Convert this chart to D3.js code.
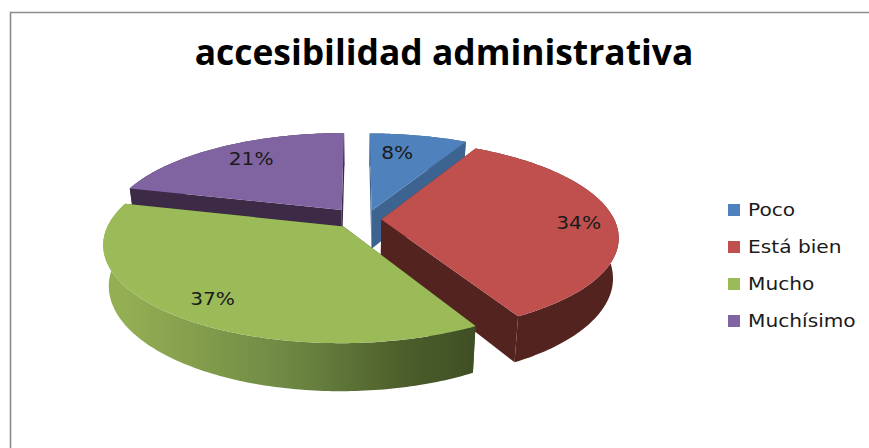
<!DOCTYPE html>
<html>
<head>
<meta charset="utf-8">
<script src="https://cdn.jsdelivr.net/npm/d3@7"></script>
<style>
  html, body { margin: 0; padding: 0; background: #fff; }
  svg { display: block; }
</style>
</head>
<body>
<svg id="chart" width="869" height="448"></svg>
<script>
// Chart content
const chartTitle = "accesibilidad administrativa";
const categories = ["Poco", "Está bien", "Mucho", "Muchísimo"];
const shares = [8, 34, 37, 21];

// Face colours per slice
const topColors = ["#4f81bd", "#c0504d", "#9bbb59", "#8064a2"];
const cutColors = ["#3d6491", "#532320", "#46562a", "#3c2a47"];
const rimColors = ["#3d6491", "#532320", "#46562a", "#3c2a47"];

// How far in along the radius each percentage sits, and a fine pixel adjustment
const labelRadii = [0.68, 0.83, 0.82, 0.72];
const labelNudges = [[-8, -5], [4, 3], [5, 2], [0, -5]];
// Back-to-front painting order (indexes into the slices)
const paintOrder = [3, 0, 1, 2];
// Extra ground-plane shift of individual slices on top of the common explosion
const sliceShifts = [[0.035, 0], [0, 0], [0, -0.005], [-0.01, -0.025]];

// Camera model of the tilted disc
const cx = 358, cy = 219.5;
const rx = 233, ry = 93.5;
const perspective = 0.175;
const explode = 0.1;
const depth = 39;
const floorShrink = 0.978;
// Body text is drawn slightly wide
const textStretch = 1.12;

const svg = d3.select("#chart");
const defs = svg.append("defs");

// Ground-plane point to screen; `lower` selects the underside of the disc
function project(gx, gs, lower) {
  const f = 1 / (1 - perspective * gs);
  const shrink = lower ? floorShrink : 1;
  return [
    cx + rx * gx * f * shrink,
    cy + ry * gs * f + (lower ? depth * f : 0)
  ];
}

const pieLayout = d3.pie().sort(null).value(d => d);
const arcs = pieLayout(shares).map((a, i) => {
  const mid = (a.startAngle + a.endAngle) / 2;
  return {
    i,
    start: a.startAngle,
    end: a.endAngle,
    mid,
    ox: explode * Math.sin(mid) + sliceShifts[i][0],
    os: -explode * Math.cos(mid) + sliceShifts[i][1]
  };
});

const pt = (a, r, theta, lower) =>
  project(a.ox + r * Math.sin(theta), a.os - r * Math.cos(theta), lower);

const apex = (a, lower) => project(a.ox, a.os, lower);

function rimPoints(a, from, to, lower) {
  const n = Math.max(2, Math.ceil(Math.abs(to - from) * 60));
  return d3.range(n + 1).map(k => pt(a, 1, from + (to - from) * k / n, lower));
}

const path = d3.line();
const closed = pts => path(pts) + "Z";

// Green's outer wall fades from light on the left to dark on the right
const grad = defs.append("linearGradient")
  .attr("id", "rimShade")
  .attr("gradientUnits", "userSpaceOnUse")
  .attr("x1", project(-1, 0)[0]).attr("x2", project(0.5, 0)[0])
  .attr("y1", 0).attr("y2", 0);
grad.append("stop").attr("offset", 0).attr("stop-color", "#94ae54");
grad.append("stop").attr("offset", 0.45).attr("stop-color", "#6f8a44");
grad.append("stop").attr("offset", 0.8).attr("stop-color", "#4c5e2b");
grad.append("stop").attr("offset", 1).attr("stop-color", "#3f4f24");

// Outer frame: left and top edges only, running off the canvas
svg.append("path")
  .attr("d", "M10.5,448V12.5H869")
  .attr("fill", "none")
  .attr("stroke", "#8c8c8c")
  .attr("stroke-width", 1.6);

svg.append("text")
  .attr("x", 444).attr("y", 65)
  .attr("text-anchor", "middle")
  .attr("font-family", "'Open Sans', sans-serif")
  .attr("font-weight", 700)
  .attr("font-size", 35.4)
  .attr("fill", "#000")
  .text(chartTitle);

const sliceLayer = svg.append("g");
paintOrder.forEach(idx => {
  const a = arcs[idx];
  const g = sliceLayer.append("g");
  const wallFill = idx === 2 ? "url(#rimShade)" : rimColors[idx];

  // Cut faces from the apex out to each slice edge
  [a.start, a.end].forEach(theta => {
    g.append("path")
      .attr("d", closed([apex(a), pt(a, 1, theta), pt(a, 1, theta, true), apex(a, true)]))
      .attr("fill", cutColors[idx]);
  });

  // Curved outer wall
  const upper = rimPoints(a, a.start, a.end, false);
  const lowerEdge = rimPoints(a, a.end, a.start, true);
  g.append("path")
    .attr("d", closed(upper.concat(lowerEdge)))
    .attr("fill", wallFill);

  // Top face
  g.append("path")
    .attr("d", closed([apex(a)].concat(upper)))
    .attr("fill", topColors[idx]);
});

// Percentage labels
svg.append("g").selectAll("text").data(arcs).join("text")
  .attr("transform", a => {
    const p = pt(a, labelRadii[a.i], a.mid);
    const n = labelNudges[a.i];
    return `translate(${p[0] + n[0]},${p[1] + n[1]}) scale(${textStretch},1)`;
  })
  .attr("text-anchor", "middle")
  .attr("dy", "0.36em")
  .attr("font-family", "'DejaVu Sans', sans-serif")
  .attr("font-size", 18)
  .attr("fill", "#1a1a1a")
  .text(a => shares[a.i] + "%");

// Legend
const legendY = d3.scalePoint().domain(categories).range([210, 321]);
const legend = svg.append("g").selectAll("g").data(categories).join("g")
  .attr("transform", d => `translate(728,${legendY(d)})`);
legend.append("rect")
  .attr("x", 0).attr("y", -6)
  .attr("width", 12).attr("height", 12)
  .attr("fill", (d, i) => topColors[i]);
legend.append("text")
  .attr("transform", `translate(20,0) scale(${textStretch},1)`)
  .attr("dy", "0.36em")
  .attr("font-family", "'DejaVu Sans', sans-serif")
  .attr("font-size", 18)
  .attr("fill", "#1a1a1a")
  .text(d => d);
</script>
</body>
</html>
